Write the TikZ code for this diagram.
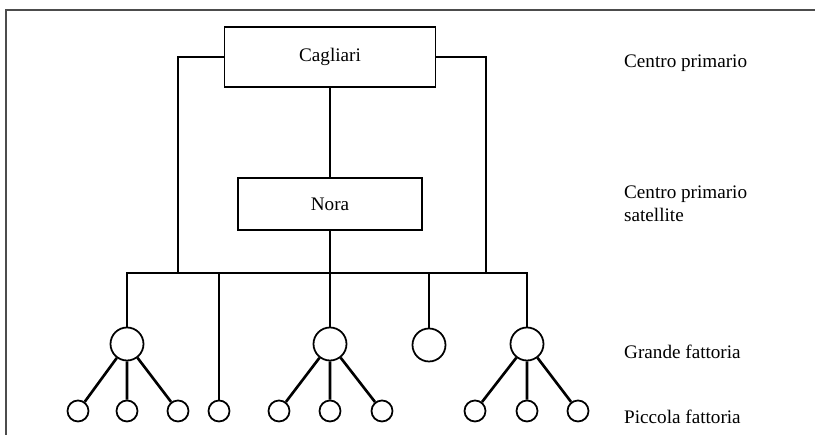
\documentclass[tikz,border=0pt]{standalone}
\usepackage{fontspec}
\setmainfont{Liberation Serif}
\usetikzlibrary{positioning}

\begin{document}
\begin{tikzpicture}[
  font=\fontsize{10.9}{13.2}\selectfont,
  centre/.style={draw, line width=1pt, minimum height=1.2cm, inner sep=0pt},
  link/.style={line width=1.5pt},
  grande/.style={draw, circle, line width=1pt, minimum size=0.66cm, inner sep=0pt},
  piccola/.style={draw, circle, line width=1pt, minimum size=0.42cm, inner sep=0pt},
  tag/.style={anchor=west, align=left}]
\useasboundingbox (0,0) rectangle (16.3,8.7);

% Frame (top and left edges only)
\draw[line width=1pt, black!70] (0.12,0) -- (0.12,8.5) -- (16.3,8.5);

% Centres
\node[centre, minimum width=4.22cm] (cag) at (6.6,7.56) {Cagliari};
\node[centre, minimum width=3.68cm, minimum height=1.04cm] (nora) at (6.6,4.62) {Nora};

% Bus and feeders
\coordinate (bus) at (6.6,3.24);
\coordinate (fl) at (3.56,3.24);
\coordinate (fr) at (9.72,3.24);

% Farms
\node[grande] (g1) at (2.54,1.82) {};
\node[grande] (g2) at (6.6,1.82) {};
\node[grande] (g3) at (8.58,1.80) {};
\node[grande] (g4) at (10.54,1.82) {};
\foreach \name/\x in {p1/1.56, p2/2.54, p3/3.56, p4/4.38, p5/5.58, p6/6.6,
                      p7/7.64, p8/9.50, p9/10.54, p10/11.56}
  \node[piccola] (\name) at (\x,0.48) {};

% Links
\draw[link] (cag) -- (nora);
\draw[link] (nora) -- (bus);
\draw[link] (cag.west) -| (fl);
\draw[link] (cag.east) -| (fr);
\draw[link] (g1) |- (bus) -| (g4);
\draw[link] (p4) -- (p4 |- bus);
\draw[link] (g2) -- (g2 |- bus);
\draw[link] (g3) -- (g3 |- bus);
\foreach \g/\a/\b/\c in {g1/p1/p2/p3, g2/p5/p6/p7, g4/p8/p9/p10}
  \draw[link] (\g) -- (\a) (\g) -- (\b) (\g) -- (\c);

% Labels
\node[tag] (lcp) at (12.36,7.44) {Centro primario};
\node[tag] (lsat) at (12.36,4.63) {Centro primario\\satellite};
\node[tag] (lgf) at (12.36,1.66) {Grande fattoria};
\node[tag] (lpf) at (12.36,0.36) {Piccola fattoria};
\end{tikzpicture}
\end{document}
